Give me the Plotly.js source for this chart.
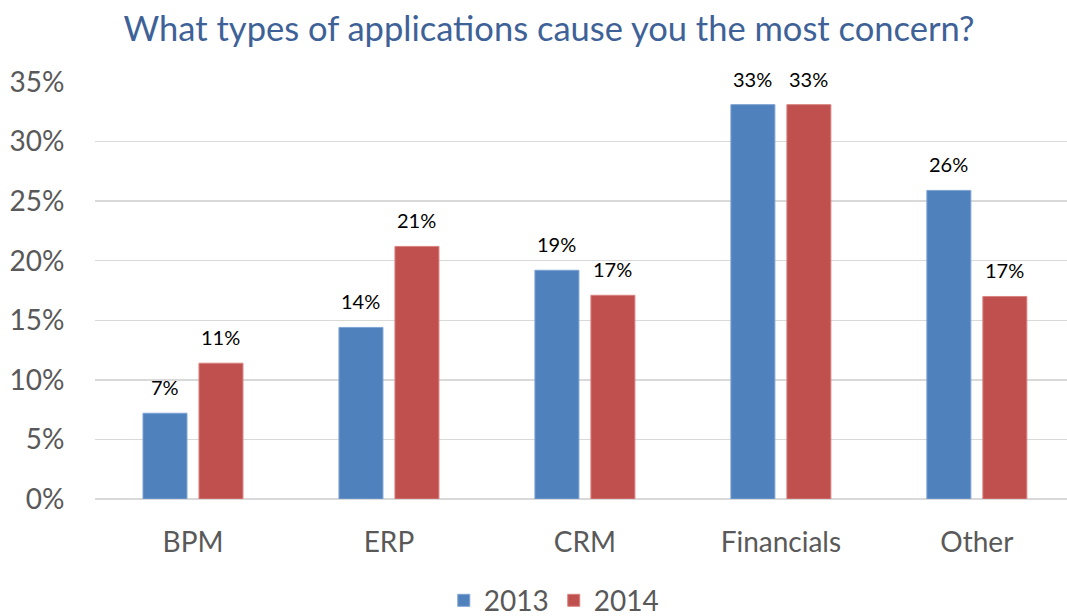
<!DOCTYPE html>
<html>
<head>
<meta charset="utf-8">
<script src="https://cdn.plot.ly/plotly-3.0.1.min.js"></script>
<style>html,body{margin:0;padding:0;background:#fff;}#chart{width:1067px;height:616px;}</style>
</head>
<body>
<div id="chart"></div>
<script>
const categories = ["BPM", "ERP", "CRM", "Financials", "Other"];
const values2013 = [0.072, 0.144, 0.192, 0.331, 0.259];
const values2014 = [0.114, 0.212, 0.171, 0.331, 0.170];
const seriesNames = ["2013", "2014"];
const yTickVals = [0, 0.05, 0.10, 0.15, 0.20, 0.25, 0.30, 0.35];
const yTickText = ["0%", "5%", "10%", "15%", "20%", "25%", "30%", "35%"];

const FONT = "Lato, 'Open Sans', sans-serif";
const colors = ["#4F81BD", "#C0504D"];
const lineColors = ["#7FA3D3", "#D98380"];
const allValues = [values2013, values2014];

const data = allValues.map((vals, k) => ({
  type: "bar",
  name: seriesNames[k],
  x: categories,
  y: vals,
  marker: {color: colors[k], line: {color: lineColors[k], width: 1}},
  hoverinfo: "x+y+name"
}));

const annotations = [];
allValues.forEach((vals, k) => {
  vals.forEach((v, i) => {
    annotations.push({
      x: categories[i], y: v, xref: "x", yref: "y",
      text: Math.round(v * 100) + "%",
      showarrow: false,
      xshift: k === 0 ? -28 : 28,
      yanchor: "bottom", yshift: 12,
      font: {family: FONT, size: 20, color: "#000000"}
    });
  });
});

const layout = {
  width: 1067,
  height: 616,
  margin: {l: 95, r: 0, t: 82, b: 117},
  paper_bgcolor: "#ffffff",
  plot_bgcolor: "#ffffff",
  title: {
    text: "What types of applications cause you the most concern?",
    font: {family: FONT, size: 34.5, color: "#3E6297"},
    x: 0.5145, xanchor: "center",
    y: 0.953, yanchor: "middle"
  },
  barmode: "group",
  bargap: 0.4286,
  bargroupgap: 0.214,
  annotations: annotations,
  xaxis: {
    range: [-0.5, 4.46],
    tickfont: {family: FONT, size: 28, color: "#595959"},
    ticks: "outside", ticklen: 18, tickcolor: "rgba(0,0,0,0)",
    showgrid: false, zeroline: false, showline: false,
    fixedrange: true, automargin: false
  },
  yaxis: {
    range: [0, 0.35],
    tickvals: yTickVals,
    ticktext: yTickText,
    tickfont: {family: FONT, size: 28, color: "#595959"},
    ticks: "outside", ticklen: 24, tickcolor: "rgba(0,0,0,0)",
    showgrid: true, gridcolor: "#D9D9D9", gridwidth: 1.5,
    zeroline: true, zerolinecolor: "#D9D9D9", zerolinewidth: 1.5,
    showline: false, fixedrange: true, automargin: false
  },
  showlegend: true,
  legend: {
    orientation: "h",
    x: 0.472, xanchor: "center",
    xref: "paper",
    yref: "container",
    y: 0.025, yanchor: "middle",
    font: {family: FONT, size: 28, color: "#595959"},
    itemwidth: 30,
    tracegroupgap: 0
  }
};

Plotly.newPlot("chart", data, layout, {displayModeBar: false, staticPlot: true});
</script>
</body>
</html>
